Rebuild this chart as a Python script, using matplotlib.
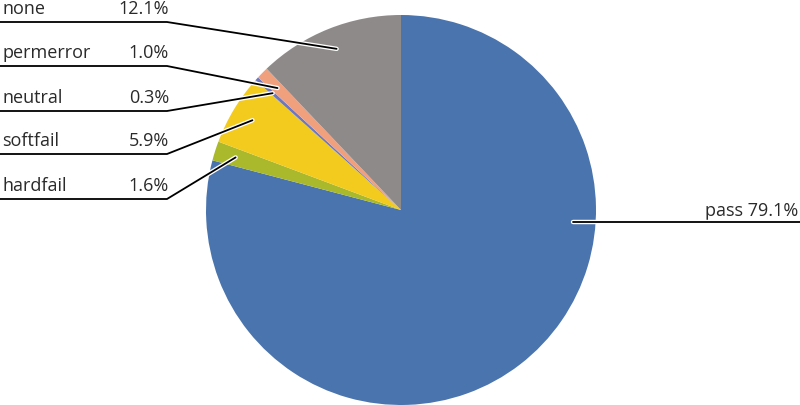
import numpy as np
import matplotlib
matplotlib.use("Agg")
import matplotlib.pyplot as plt
import matplotlib.patheffects as pe

plt.rcParams["font.family"] = ["Open Sans", "DejaVu Sans"]

# データ(時計回り、12時の位置から)
labels = ["pass", "hardfail", "softfail", "neutral", "permerror", "none"]
shares = [79.1, 1.6, 5.9, 0.3, 1.0, 12.1]
colors = ["#4a74ad", "#a9b92b", "#f3cb1f", "#6b77c0", "#f1a07e", "#8e8a89"]

W, H = 800, 406
cx, cy, r = 401, H - 211, 195

fig = plt.figure(figsize=(8, 4.06), dpi=100)
ax = fig.add_axes([0, 0, 1, 1])

wedges, _ = ax.pie(shares, colors=colors, startangle=90, counterclock=False,
                   center=(cx, cy), radius=r, frame=True,
                   wedgeprops=dict(linewidth=0))
ax.set_xlim(0, W)
ax.set_ylim(0, H)
ax.set_aspect("equal")
ax.axis("off")

halo = [pe.Stroke(linewidth=3.2, foreground="white"), pe.Normal()]
txt = dict(fontsize=13, color="#2a2a2a", va="baseline")

# 左側のラベル(上から none, permerror, neutral, softfail, hardfail)
left_rows = [("none", 23), ("permerror", 67), ("neutral", 112),
             ("softfail", 155), ("hardfail", 200)]
for name, yrow in left_rows:
    w = wedges[labels.index(name)]
    mid = np.deg2rad((w.theta1 + w.theta2) / 2)
    px, py = cx + 0.89 * r * np.cos(mid), cy + 0.89 * r * np.sin(mid)
    y = H - yrow
    ax.plot([0, 167, px], [y, y, py], color="black", lw=1.3,
            solid_capstyle="round", path_effects=halo, zorder=5)
    ax.text(2, y + 9, name, ha="left", **txt)
    ax.text(169, y + 9, f"{shares[labels.index(name)]:.1f}%", ha="right", **txt)

# pass のラベル(右側)
ang = np.deg2rad(-4)
px, py = cx + 0.885 * r * np.cos(ang), cy + 0.885 * r * np.sin(ang)
ax.plot([px, W], [py, py], color="black", lw=1.3, solid_capstyle="round",
        path_effects=halo, zorder=5)
ax.text(798, py + 7, f"pass {shares[0]:.1f}%", ha="right", **txt)

fig.savefig("out.png", dpi=100)
